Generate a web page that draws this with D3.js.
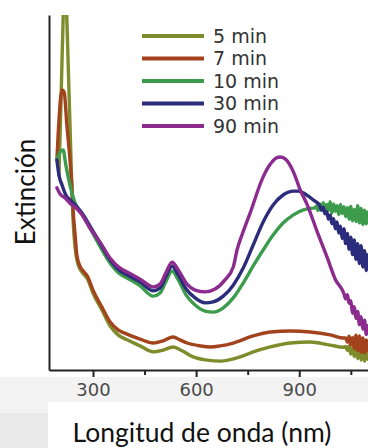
<!DOCTYPE html>
<html><head><meta charset="utf-8">
<script src="https://cdn.jsdelivr.net/npm/d3@7"></script>
<style>html,body{margin:0;padding:0;background:#fff;}svg{display:block;}</style>
</head><body>
<script>
// ---- data (wavelength in nm, extinction in arbitrary units) ----
const seriesNames = ["5 min", "7 min", "10 min", "30 min", "90 min"];
const seriesColors = ["#7f8c2c", "#a3431d", "#3d9c4c", "#2b2d7c", "#8c2b8e"];
const xTickLabels = [300, 600, 900];
const xMinorTicks = [450, 750, 1050];

const wl5  = [201,207,213,218,224,230,236,242,248,256,268,285,300,326,350,373,399,437,475,504,533,559,591,632,670,728,766,816,874,932,990,1030,1035,1040,1045,1050,1055,1060,1065,1070,1075,1080,1085,1090,1095,1100];
const ext5 = [0.549,0.761,0.986,1.127,0.986,0.789,0.592,0.423,0.344,0.299,0.276,0.254,0.217,0.169,0.124,0.099,0.085,0.068,0.051,0.056,0.065,0.054,0.037,0.028,0.025,0.037,0.051,0.065,0.076,0.079,0.070,0.064,0.066,0.055,0.068,0.045,0.062,0.038,0.060,0.032,0.058,0.028,0.052,0.025,0.050,0.030];

const wl7  = [195,201,210,216,224,233,239,242,248,253,262,274,285,300,326,350,373,399,437,475,504,533,553,574,612,641,670,708,766,816,874,932,990,1030,1035,1040,1045,1050,1055,1060,1065,1070,1075,1080,1085,1090,1095,1100];
const ext7 = [0.592,0.704,0.789,0.783,0.690,0.592,0.507,0.451,0.380,0.324,0.293,0.276,0.262,0.225,0.177,0.135,0.113,0.101,0.087,0.076,0.082,0.093,0.085,0.076,0.068,0.065,0.068,0.076,0.096,0.107,0.110,0.107,0.099,0.090,0.090,0.078,0.095,0.070,0.092,0.060,0.098,0.055,0.096,0.050,0.090,0.048,0.085,0.055];

const wl10  = [195,204,213,221,233,248,268,291,320,350,379,399,437,475,495,513,530,548,571,597,626,650,679,708,737,766,795,824,853,883,912,941,945,950,955,960,965,970,975,980,985,990,995,1000,1005,1010,1015,1020,1025,1030,1035,1040,1045,1050,1055,1060,1065,1070,1075,1080,1085,1090,1095,1100];
const ext10 = [0.592,0.614,0.620,0.577,0.521,0.470,0.439,0.400,0.349,0.301,0.270,0.259,0.237,0.208,0.217,0.251,0.279,0.254,0.211,0.183,0.166,0.163,0.175,0.203,0.245,0.293,0.338,0.380,0.414,0.437,0.451,0.456,0.456,0.462,0.449,0.468,0.452,0.471,0.445,0.466,0.450,0.474,0.442,0.468,0.447,0.463,0.438,0.466,0.441,0.460,0.432,0.458,0.425,0.461,0.420,0.452,0.418,0.463,0.415,0.455,0.410,0.450,0.412,0.445];

const wl30  = [195,201,210,221,233,248,268,291,320,350,379,399,437,475,495,513,530,548,571,597,626,650,679,708,737,766,795,824,853,883,897,917,941,960,965,970,975,980,985,990,995,1000,1005,1010,1015,1020,1025,1030,1035,1040,1045,1050,1055,1060,1065,1070,1075,1080,1085,1090,1095,1100];
const ext30 = [0.592,0.549,0.521,0.493,0.479,0.465,0.442,0.406,0.358,0.310,0.279,0.268,0.248,0.223,0.231,0.265,0.293,0.268,0.228,0.203,0.189,0.192,0.208,0.239,0.287,0.352,0.417,0.465,0.493,0.504,0.504,0.496,0.479,0.462,0.450,0.458,0.440,0.446,0.425,0.437,0.412,0.426,0.398,0.417,0.386,0.405,0.370,0.398,0.356,0.385,0.340,0.374,0.325,0.366,0.312,0.356,0.300,0.350,0.290,0.336,0.280,0.325];

const wl90  = [195,204,218,233,248,268,291,320,350,379,399,437,475,495,513,530,548,571,597,626,655,684,708,719,737,757,795,816,833,845,862,883,903,923,952,982,1005,1030,1035,1040,1045,1050,1055,1060,1065,1070,1075,1080,1085,1090,1095,1100];
const ext90 = [0.513,0.496,0.485,0.470,0.459,0.437,0.400,0.361,0.315,0.287,0.276,0.256,0.234,0.242,0.276,0.304,0.282,0.245,0.225,0.220,0.228,0.254,0.290,0.338,0.390,0.442,0.544,0.580,0.597,0.600,0.592,0.558,0.507,0.466,0.390,0.315,0.255,0.215,0.200,0.212,0.188,0.195,0.160,0.178,0.145,0.165,0.128,0.150,0.115,0.140,0.100,0.125];

const wavelengths = [wl5, wl7, wl10, wl30, wl90];
const extinctions = [ext5, ext7, ext10, ext30, ext90];

// ---- layout ----
const W = 368, H = 448;
const svg = d3.select("body").append("svg").attr("width", W).attr("height", H);

// backgrounds
svg.append("rect").attr("x",0).attr("y",377).attr("width",W).attr("height",H-377).attr("fill","#f3f3f3");
svg.append("rect").attr("x",0).attr("y",413).attr("width",48).attr("height",H-413).attr("fill","#e9e9e9");
svg.append("rect").attr("x",48).attr("y",402).attr("width",W-48).attr("height",H-402).attr("fill","#ffffff");

const x = d3.scaleLinear().domain([172, 1100]).range([49, 368]);
const y = d3.scaleLinear().domain([0, 1]).range([370, 15]);

svg.append("clipPath").attr("id","plot").append("rect")
  .attr("x",50).attr("y",15).attr("width",W-50).attr("height",354);

const line = d3.line().x(d => x(d[0])).y(d => y(d[1])).curve(d3.curveMonotoneX);

const g = svg.append("g").attr("clip-path","url(#plot)");
seriesNames.forEach((name, i) => {
  const pts = wavelengths[i].map((w, j) => [w, extinctions[i][j]]);
  g.append("path").datum(pts).attr("d", line)
    .attr("fill","none").attr("stroke", seriesColors[i])
    .attr("stroke-width", 3.4).attr("stroke-linejoin","round").attr("stroke-linecap","round");
});

// axes
const xAxis = svg.append("g").attr("transform","translate(0,370)")
  .call(d3.axisBottom(x).tickValues(xTickLabels).tickSize(7).tickSizeOuter(0).tickPadding(6));
xAxis.select(".domain").attr("stroke","#222").attr("stroke-width",2);
xAxis.selectAll(".tick line").attr("stroke","#222").attr("stroke-width",2);
xAxis.selectAll(".tick text").attr("font-family","DejaVu Sans").attr("font-size",18).attr("fill","#4a4a4a");

const xMinor = svg.append("g").attr("transform","translate(0,370)")
  .call(d3.axisBottom(x).tickValues(xMinorTicks).tickSize(5).tickFormat(""));
xMinor.select(".domain").remove();
xMinor.selectAll(".tick line").attr("stroke","#222").attr("stroke-width",2);

const yAxis = svg.append("g").attr("transform","translate(49,0)")
  .call(d3.axisLeft(y).tickValues([]).tickSizeOuter(0));
yAxis.select(".domain").attr("stroke","#222").attr("stroke-width",2);

// axis titles
svg.append("text").attr("x",202).attr("y",442).attr("text-anchor","middle")
  .attr("font-family","Lato").attr("font-size",26.5).attr("fill","#111")
  .text("Longitud de onda (nm)");
svg.append("text").attr("transform","translate(35,192) rotate(-90)").attr("text-anchor","middle")
  .attr("font-family","Lato").attr("font-size",26).attr("fill","#111")
  .text("Extinción");

// legend
const leg = svg.append("g");
seriesNames.forEach((name, i) => {
  const yy = 36 + i * 22.5;
  leg.append("line").attr("x1",142).attr("x2",204).attr("y1",yy).attr("y2",yy)
    .attr("stroke", seriesColors[i]).attr("stroke-width",4);
  leg.append("text").attr("x",213).attr("y",yy).attr("dy","0.36em")
    .attr("font-family","DejaVu Sans").attr("font-size",19).attr("fill","#333")
    .text(name);
});
</script>
</body></html>
